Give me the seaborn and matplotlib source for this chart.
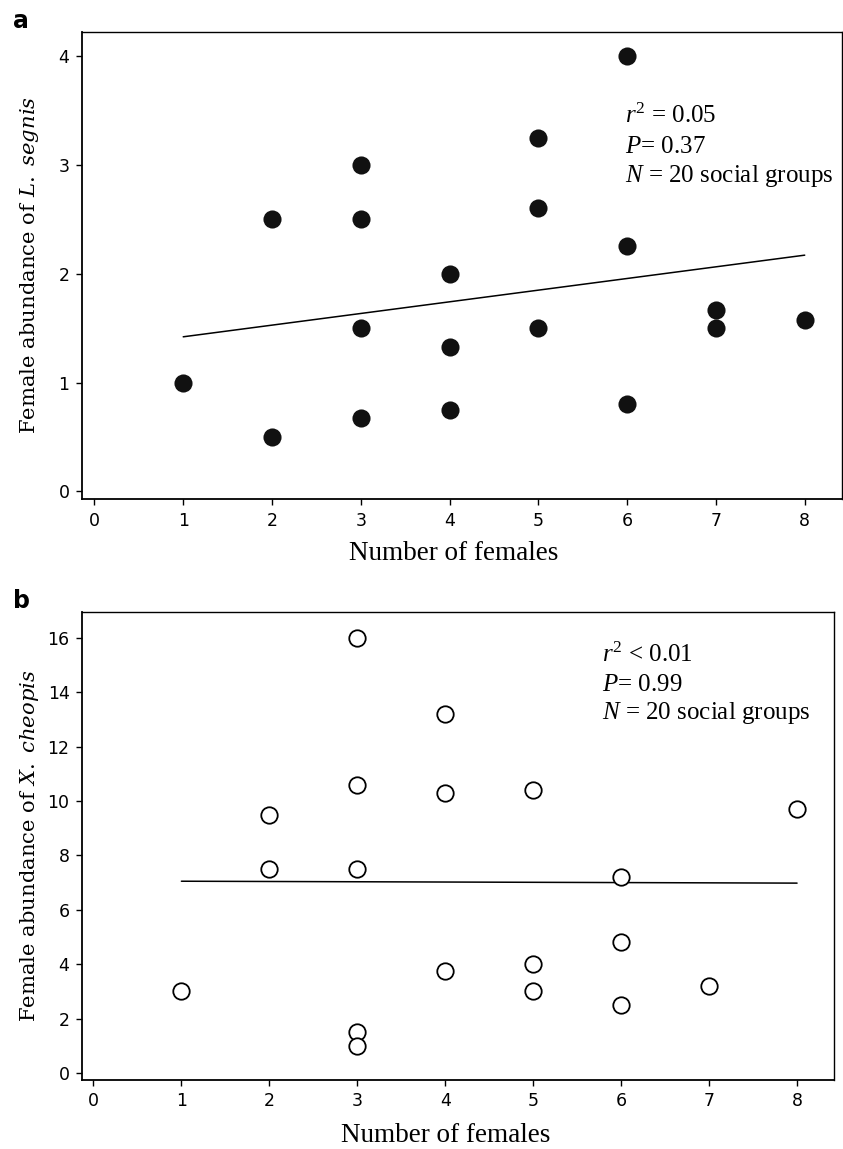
import matplotlib
matplotlib.use("Agg")
import matplotlib.pyplot as plt
import seaborn as sns

# panel a - L. segnis
females_a = [1, 2, 2, 3, 3, 3, 3, 4, 4, 4, 5, 5, 5, 6, 6, 6, 7, 7, 8]
segnis = [1.0, 2.5, 0.5, 3.0, 2.5, 1.5, 0.67, 2.0, 1.33, 0.75,
          3.25, 2.6, 1.5, 4.0, 2.25, 0.8, 1.67, 1.5, 1.57]
fit_x_a = [1, 8]
fit_y_a = [1.42, 2.17]
stats_a = ["$r^2$ = 0.05", "$P$= 0.37", "$N$ = 20 social groups"]

# panel b - X. cheopis
females_b = [1, 2, 2, 3, 3, 3, 3, 3, 4, 4, 4, 5, 5, 5, 6, 6, 6, 7, 8]
cheopis = [3.0, 9.5, 7.5, 16.0, 10.6, 7.5, 1.5, 1.0, 13.2, 10.3, 3.75,
           10.4, 4.0, 3.0, 7.2, 4.8, 2.5, 3.2, 9.7]
fit_x_b = [1, 8]
fit_y_b = [7.05, 6.98]
stats_b = ["$r^2$ < 0.01", "$P$= 0.99", "$N$ = 20 social groups"]

x_ticks = list(range(0, 9))
y_ticks_a = [0, 1, 2, 3, 4]
y_ticks_b = [0, 2, 4, 6, 8, 10, 12, 14, 16]

sns.set_style("ticks", {"axes.edgecolor": "black", "text.color": "black",
                        "xtick.color": "black", "ytick.color": "black",
                        "axes.labelcolor": "black"})
plt.rcParams['font.family'] = ['DejaVu Sans']
plt.rcParams['mathtext.fontset'] = 'custom'
plt.rcParams['mathtext.rm'] = 'Liberation Serif'
plt.rcParams['mathtext.it'] = 'Liberation Serif:italic'

fig = plt.figure(figsize=(8.43, 11.49), dpi=100)
ax_a = fig.add_axes([82 / 843, 1 - 499 / 1149, 760 / 843, 467 / 1149])
ax_b = fig.add_axes([82 / 843, 1 - 1080 / 1149, 752 / 843, 468 / 1149])

sns.scatterplot(x=females_a, y=segnis, ax=ax_a, s=170, color="#111111",
                edgecolor="#111111", linewidth=0, zorder=3)
sns.lineplot(x=fit_x_a, y=fit_y_a, ax=ax_a, color="black", linewidth=1.1)

sns.scatterplot(x=females_b, y=cheopis, ax=ax_b, s=140, facecolor="white",
                edgecolor="black", linewidth=1.3, zorder=3)
sns.lineplot(x=fit_x_b, y=fit_y_b, ax=ax_b, color="black", linewidth=1.1)

ax_a.set_xlim(-0.14, 8.42)
ax_a.set_ylim(-0.07, 4.22)
ax_b.set_xlim(-0.13, 8.42)
ax_b.set_ylim(-0.26, 16.95)

panels = [(ax_a, y_ticks_a, "Female abundance of $\\mathit{L.\\ segnis}$", stats_a,
           0.714, [0.805, 0.741, 0.679]),
          (ax_b, y_ticks_b, "Female abundance of $\\mathit{X.\\ cheopis}$", stats_b,
           0.692, [0.893, 0.831, 0.771])]

for ax, yt, ylab, stats, tx, tys in panels:
    ax.set_xticks(x_ticks)
    ax.set_yticks(yt)
    ax.tick_params(axis="both", direction="out", length=4, width=1,
                   labelsize=12.5, pad=5, colors="black")
    for side in ["top", "right"]:
        ax.spines[side].set_linewidth(1.0)
    for side in ["left", "bottom"]:
        ax.spines[side].set_linewidth(1.3)
    ax.set_xlabel("Number of females", family="Liberation Serif", fontsize=19.5)
    ax.set_ylabel(ylab, family="DejaVu Serif", fontsize=15.2,
                  math_fontfamily="dejavuserif", va="center")
    for txt, ty in zip(stats, tys):
        ax.text(tx, ty, txt, transform=ax.transAxes, family="Liberation Serif",
                fontsize=18, va="baseline", ha="left")

ax_a.xaxis.set_label_coords(0.489, -0.09)
ax_b.xaxis.set_label_coords(0.483, -0.092)
ax_a.yaxis.set_label_coords(-0.0685, 0.5)
ax_b.yaxis.set_label_coords(-0.0692, 0.5)

fig.text(13 / 843, 1 - 28 / 1149, "a", fontsize=17, weight="bold", va="baseline")
fig.text(13 / 843, 1 - 608 / 1149, "b", fontsize=17, weight="bold", va="baseline")

fig.savefig("out.png", dpi=100)
